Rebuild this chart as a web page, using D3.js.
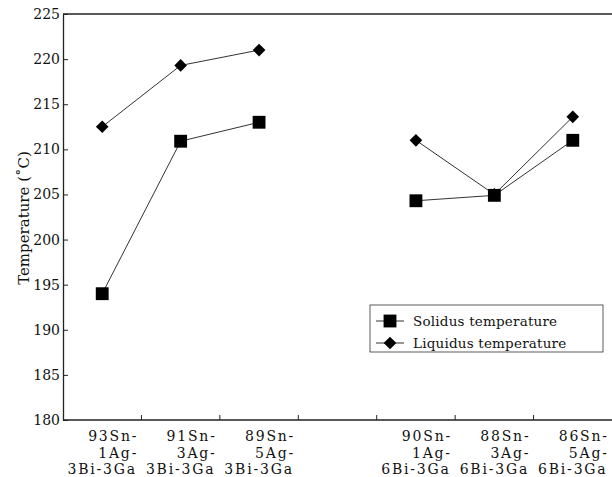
<!DOCTYPE html>
<html>
<head>
<meta charset="utf-8">
<title>Solidus / liquidus temperature</title>
<script src="https://cdn.jsdelivr.net/npm/d3@7"></script>
<style>
  body { margin: 0; background: #fff; }
  text { font-family: "DejaVu Serif", "Liberation Serif", serif; fill: #111; }
</style>
</head>
<body>
<script>
// alloy compositions (blank slot = gap between the two groups)
var categories = ["93Sn-1Ag-3Bi-3Ga", "91Sn-3Ag-3Bi-3Ga", "89Sn-5Ag-3Bi-3Ga", "gap",
                  "90Sn-1Ag-6Bi-3Ga", "88Sn-3Ag-6Bi-3Ga", "86Sn-5Ag-6Bi-3Ga"];
var categoryLines = [["93Sn-", "1Ag-", "3Bi-3Ga"], ["91Sn-", "3Ag-", "3Bi-3Ga"], ["89Sn-", "5Ag-", "3Bi-3Ga"], [],
                     ["90Sn-", "1Ag-", "6Bi-3Ga"], ["88Sn-", "3Ag-", "6Bi-3Ga"], ["86Sn-", "5Ag-", "6Bi-3Ga"]];
var solidus  = [194.0, 210.9, 213.0, null, 204.3, 204.9, 211.0];
var liquidus = [212.5, 219.3, 221.0, null, 211.0, 205.0, 213.6];
var yTicks = [180, 185, 190, 195, 200, 205, 210, 215, 220, 225];
var seriesNames = ["Solidus temperature", "Liquidus temperature"];

var W = 612, H = 477;
var margin = {top: 14, right: 0, bottom: 57, left: 63};
var width = W - margin.left - margin.right,
    height = H - margin.top - margin.bottom;

var svg = d3.select("body").append("svg")
    .attr("width", W)
    .attr("height", H);

var g = svg.append("g")
    .attr("transform", "translate(" + margin.left + "," + margin.top + ")");

var x = d3.scaleBand()
    .domain(categories)
    .range([0, width]);

var y = d3.scaleLinear()
    .domain([180, 225])
    .range([height, 0]);

// top frame line
g.append("line")
    .attr("x1", 0).attr("x2", width)
    .attr("y1", 0).attr("y2", 0)
    .attr("stroke", "#222").attr("stroke-width", 1.3);

// y axis, ticks pointing inward
var yAxis = d3.axisLeft(y).tickValues(yTicks).tickSizeInner(-5).tickSizeOuter(0).tickPadding(3);
var ya = g.append("g").call(yAxis);
ya.attr("font-family", null).attr("font-size", null);
ya.select(".domain").attr("stroke", "#222").attr("stroke-width", 1.3);
ya.selectAll(".tick line").attr("stroke", "#222");
ya.selectAll(".tick text")
    .style("font-size", "14px")
    .attr("fill", "#111");

// x axis: ticks at band boundaries
var xa = g.append("g").attr("transform", "translate(0," + height + ")");
xa.append("line")
    .attr("x1", 0).attr("x2", width)
    .attr("stroke", "#222").attr("stroke-width", 1.3);
xa.selectAll(".xt")
    .data(categories.slice(1))
    .enter().append("line")
    .attr("class", "xt")
    .attr("x1", function(d) { return x(d); })
    .attr("x2", function(d) { return x(d); })
    .attr("y1", 0).attr("y2", -5)
    .attr("stroke", "#222");

// category labels, three lines each (first two lines sit a bit right, as in the source)
var lineShift = [11, 16, 0];
categories.forEach(function(c, i) {
  var t = xa.append("text")
      .attr("y", 21)
      .attr("text-anchor", "middle")
      .style("font-size", "14px")
      .style("letter-spacing", "1.8px");
  categoryLines[i].forEach(function(s, k) {
    t.append("tspan")
        .attr("x", x(c) + x.bandwidth() / 2 + lineShift[k])
        .attr("dy", k === 0 ? 0 : 16.5)
        .text(s);
  });
});

// y axis title
svg.append("text")
    .attr("transform", "translate(29," + 218 + ") rotate(-90)")
    .attr("text-anchor", "middle")
    .style("font-size", "15px")
    .text("Temperature (\u02DAC)");

// lines
var line = function(vals) {
  return d3.line()
    .defined(function(d) { return d != null; })
    .x(function(d, i) { return x(categories[i]) + x.bandwidth() / 2; })
    .y(function(d) { return y(d); })(vals);
};

[solidus, liquidus].forEach(function(vals) {
  g.append("path")
      .attr("d", line(vals))
      .attr("fill", "none")
      .attr("stroke", "#333")
      .attr("stroke-width", 1);
});

var sq = d3.symbol().type(d3.symbolSquare).size(165);
var dm = d3.symbol().type(d3.symbolSquare).size(80);

function drawMarker(sel, type) {
  if (type === 0) {
    sel.append("path").attr("d", sq()).attr("fill", "#000");
  } else {
    sel.append("path").attr("d", dm()).attr("transform", "rotate(45)").attr("fill", "#000");
  }
}

[solidus, liquidus].forEach(function(vals, s) {
  vals.forEach(function(v, i) {
    if (v == null) return;
    var m = g.append("g")
        .attr("transform", "translate(" + (x(categories[i]) + x.bandwidth() / 2) + "," + y(v) + ")");
    drawMarker(m, s);
  });
});

// legend
var lg = svg.append("g").attr("transform", "translate(370,305)");
lg.append("rect")
    .attr("width", 233).attr("height", 47)
    .attr("fill", "#fff")
    .attr("stroke", "#333").attr("stroke-width", 0.8);
seriesNames.forEach(function(name, i) {
  var row = lg.append("g").attr("transform", "translate(0," + (16 + i * 22) + ")");
  row.append("line")
      .attr("x1", 6).attr("x2", 34)
      .attr("stroke", "#333");
  var m = row.append("g").attr("transform", "translate(20,0)");
  drawMarker(m, i);
  row.append("text")
      .attr("x", 43).attr("y", 5)
      .style("font-size", "13.5px")
      .style("letter-spacing", "0.2px")
      .text(name);
});
</script>
</body>
</html>
